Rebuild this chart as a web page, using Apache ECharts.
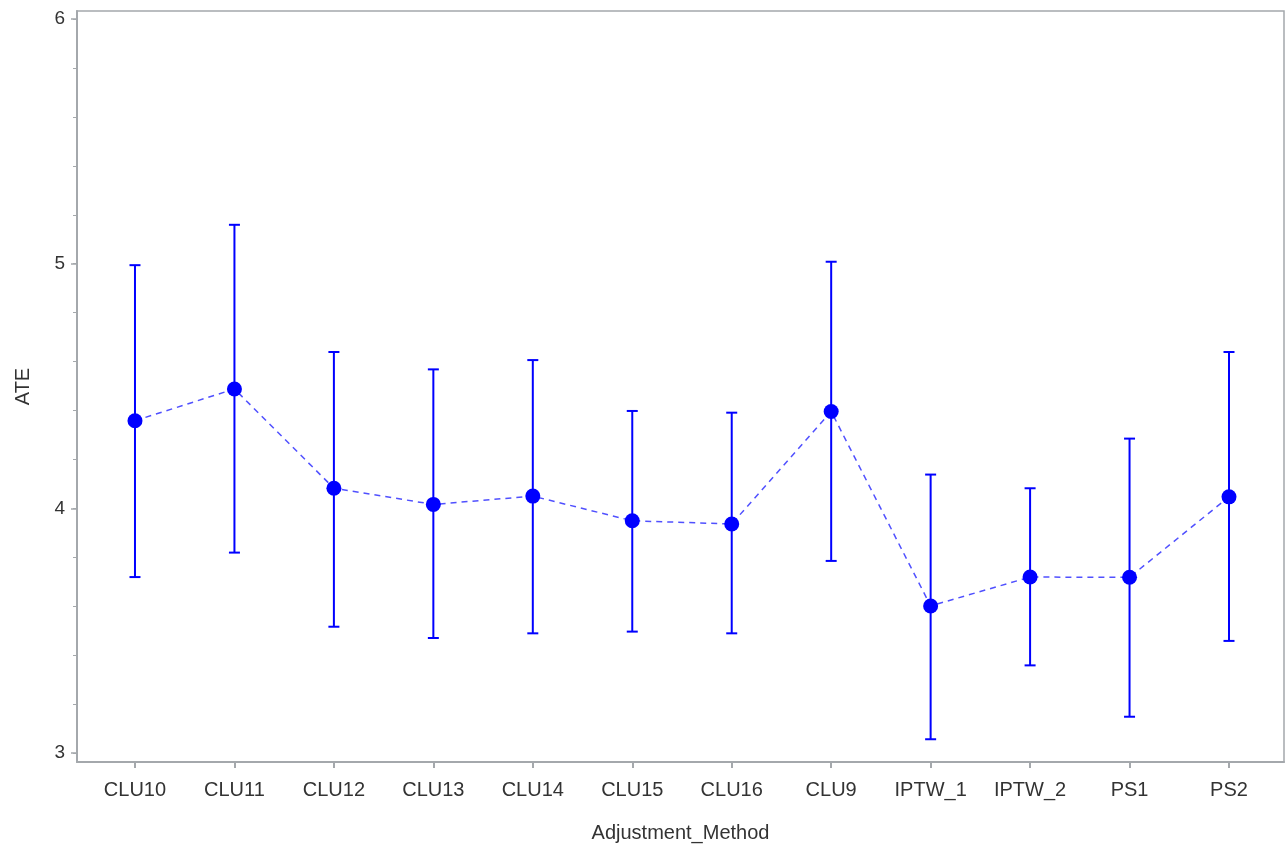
<!DOCTYPE html>
<html>
<head>
  <meta charset="utf-8">
  <title>ATE by Adjustment_Method</title>
  <script src="https://cdn.jsdelivr.net/npm/echarts@6/dist/echarts.min.js"></script>
  <style>
    html, body { margin: 0; padding: 0; background: #fff; }
    #main { width: 1286px; height: 850px; }
  </style>
</head>
<body>
  <div id="main"></div>
  <script>
    // categories and values
    var methods = ['CLU10', 'CLU11', 'CLU12', 'CLU13', 'CLU14', 'CLU15', 'CLU16', 'CLU9', 'IPTW_1', 'IPTW_2', 'PS1', 'PS2'];
    var ate   = [4.358, 4.488, 4.082, 4.016, 4.050, 3.949, 3.936, 4.396, 3.601, 3.719, 3.718, 4.047];
    var upper = [4.994, 5.159, 4.639, 4.568, 4.606, 4.398, 4.391, 5.008, 4.138, 4.082, 4.285, 4.639];
    var lower = [3.719, 3.819, 3.516, 3.470, 3.489, 3.496, 3.489, 3.785, 3.056, 3.358, 3.148, 3.458];
    var yMajor = [3, 4, 5, 6];
    var yMinor = [];
    for (var t = 3; t <= 6.0001; t += 0.2) yMinor.push(+t.toFixed(1));
    var xTicks = methods.map(function (m, i) { return i; });

    var axisGray = '#a4a8ac';
    var textColor = '#333';
    var fontFam = 'Arial, "Liberation Sans", sans-serif';

    var chart = echarts.init(document.getElementById('main'));

    var option = {
      animation: false,
      grid: {
        left: 77, right: 2, top: 11, bottom: 88,
        show: true, borderColor: axisGray, borderWidth: 1.5
      },
      xAxis: {
        type: 'value',
        min: -0.583, max: 11.553,
        name: 'Adjustment_Method',
        nameLocation: 'middle',
        nameGap: 61,
        nameTextStyle: { color: textColor, fontSize: 20, fontFamily: fontFam },
        axisLine: { show: true, onZero: false, lineStyle: { color: axisGray, width: 2 } },
        axisTick: { show: true, length: 6, customValues: xTicks, lineStyle: { color: axisGray, width: 2 } },
        axisLabel: {
          customValues: xTicks,
          margin: 18,
          color: textColor, fontSize: 20, fontFamily: fontFam,
          formatter: function (v) { return methods[Math.round(v)]; }
        },
        splitLine: { show: false }
      },
      yAxis: [{
        type: 'value',
        min: 2.963, max: 6.033,
        name: 'ATE',
        nameLocation: 'middle',
        nameGap: 44,
        nameRotate: 90,
        nameTextStyle: { color: textColor, fontSize: 20, fontFamily: fontFam },
        axisLine: { show: true, onZero: false, lineStyle: { color: axisGray, width: 2 } },
        axisTick: { show: true, length: 6, customValues: yMajor, lineStyle: { color: axisGray, width: 1.5 } },
        axisLabel: {
          customValues: yMajor,
          margin: 12,
          color: textColor, fontSize: 19, fontFamily: fontFam
        },
        splitLine: { show: false }
      }, {
        type: 'value',
        position: 'left',
        min: 2.963, max: 6.033,
        axisLine: { show: false, onZero: false },
        axisTick: { show: true, length: 4, customValues: yMinor, lineStyle: { color: axisGray, width: 1 } },
        axisLabel: { show: false },
        splitLine: { show: false }
      }],
      series: [{
        // error bars
        type: 'custom',
        z: 2,
        data: methods.map(function (m, i) { return [i, lower[i], upper[i]]; }),
        renderItem: function (params, api) {
          var lo = api.coord([api.value(0), api.value(1)]);
          var hi = api.coord([api.value(0), api.value(2)]);
          var hw = 5.5;
          var style = { stroke: '#0000ff', lineWidth: 2 };
          return {
            type: 'group',
            children: [
              { type: 'line', shape: { x1: lo[0], y1: lo[1], x2: hi[0], y2: hi[1] }, style: style },
              { type: 'line', shape: { x1: hi[0] - hw, y1: hi[1], x2: hi[0] + hw, y2: hi[1] }, style: style },
              { type: 'line', shape: { x1: lo[0] - hw, y1: lo[1], x2: lo[0] + hw, y2: lo[1] }, style: style }
            ]
          };
        }
      }, {
        // means joined by dashed line
        type: 'line',
        z: 3,
        data: methods.map(function (m, i) { return [i, ate[i]]; }),
        symbol: 'circle',
        symbolSize: 15,
        itemStyle: { color: '#0000ff' },
        lineStyle: { color: '#5050ff', width: 1.5, type: [6, 5] }
      }]
    };

    chart.setOption(option);
  </script>
</body>
</html>
